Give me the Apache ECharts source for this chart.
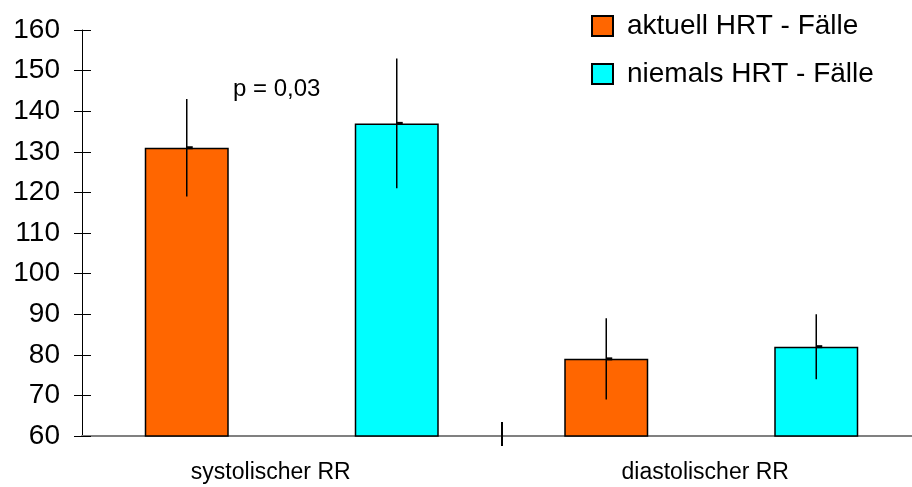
<!DOCTYPE html>
<html>
<head>
<meta charset="utf-8">
<script src="https://cdn.jsdelivr.net/npm/echarts@6/dist/echarts.min.js"></script>
<style>html,body{margin:0;padding:0;background:#fff}#c{width:912px;height:487px}</style>
</head>
<body>
<div id="c"></div>
<script>
var categories = ['systolischer RR', 'diastolischer RR'];
var seriesNames = ['aktuell HRT - Fälle', 'niemals HRT - Fälle'];
var aktuellMean = [131, 79];
var aktuellLow = [119, 69];
var aktuellHigh = [143, 89];
var niemalsMean = [137, 82];
var niemalsLow = [121, 74];
var niemalsHigh = [153, 90];
var yTicks = [60, 70, 80, 90, 100, 110, 120, 130, 140, 150, 160];
var annotation = 'p = 0,03';

var FONT = "'Liberation Sans', Arial, sans-serif";
var BAR_W = 84;
var OFFSET = 105;

function errData(mean, low, high) {
  return categories.map(function (c, i) { return [i, low[i], high[i], mean[i]]; });
}
function errRender(off) {
  return function (params, api) {
    var i = api.value(0);
    var lo = api.coord([i, api.value(1)]);
    var hi = api.coord([i, api.value(2)]);
    var mid = api.coord([i, api.value(3)]);
    var x = lo[0] + off;
    return {
      type: 'group',
      children: [
        { type: 'line', shape: { x1: x, y1: lo[1], x2: x, y2: hi[1] }, style: { stroke: '#000', lineWidth: 1.5 } },
        { type: 'rect', shape: { x: x, y: mid[1] - 1.5, width: 6, height: 3 }, style: { fill: '#000' } }
      ]
    };
  };
}

var chart = echarts.init(document.getElementById('c'));
chart.setOption({
  animation: false,
  textStyle: { fontFamily: FONT },
  grid: { left: 82, width: 839, top: 30, bottom: 51, containLabel: false, outerBoundsMode: 'none' },
  legend: {
    orient: 'vertical', left: 586, top: 7, itemWidth: 21, itemHeight: 20, itemGap: 20,
    icon: 'rect',
    textStyle: { fontSize: 28, color: '#000', fontFamily: FONT, padding: [0, 0, 0, 9] },
    data: seriesNames
  },
  xAxis: [
    {
      type: 'category', data: categories, boundaryGap: true,
      axisLine: { lineStyle: { color: '#808080', width: 2 } },
      axisTick: { show: false },
      axisLabel: {
        fontSize: 23, color: '#000', margin: 25, fontFamily: FONT,
        formatter: function (v, i) { return i === 0 ? '{a|' + v + '}' : '{b|' + v + '}'; },
        rich: {
          a: { fontSize: 23, fontFamily: FONT, color: '#000', padding: [0, 42, 0, 0] },
          b: { fontSize: 23, fontFamily: FONT, color: '#000', padding: [0, 12, 0, 0] }
        }
      }
    },
    {
      type: 'value', min: 0, max: 2, position: 'bottom',
      axisLine: { show: false }, axisLabel: { show: false }, splitLine: { show: false },
      axisTick: { show: true, customValues: [1], length: 10, lineStyle: { color: '#000', width: 2 } }
    },
    {
      type: 'value', min: 0, max: 2, position: 'bottom',
      axisLine: { show: false }, axisLabel: { show: false }, splitLine: { show: false },
      axisTick: { show: true, inside: true, customValues: [1], length: 14, lineStyle: { color: '#000', width: 2 } }
    }
  ],
  yAxis: [
    {
      type: 'value', min: 60, max: 160, interval: 10,
      axisLine: { show: true, lineStyle: { color: '#000', width: 1 } },
      axisTick: { show: true, length: 8, lineStyle: { color: '#000', width: 1 } },
      axisLabel: { fontSize: 28, color: '#000', margin: 22, fontFamily: FONT,
        customValues: yTicks },
      splitLine: { show: false }
    },
    {
      type: 'value', min: 60, max: 160, interval: 10, position: 'left',
      axisLine: { show: false },
      axisTick: { show: true, inside: true, length: 9, lineStyle: { color: '#000', width: 1 } },
      axisLabel: { show: false },
      splitLine: { show: false }
    }
  ],
  series: [
    {
      name: seriesNames[0], type: 'bar', data: aktuellMean, barWidth: BAR_W, barGap: '150%',
      itemStyle: { color: '#FF6600', borderColor: '#000', borderWidth: 1.5 }
    },
    {
      name: seriesNames[1], type: 'bar', data: niemalsMean, barWidth: BAR_W, barGap: '150%',
      itemStyle: { color: '#00FFFF', borderColor: '#000', borderWidth: 1.5 }
    },
    {
      type: 'custom', renderItem: errRender(-OFFSET), data: errData(aktuellMean, aktuellLow, aktuellHigh),
      encode: { x: 0, y: [1, 2] }, z: 10, silent: true
    },
    {
      type: 'custom', renderItem: errRender(OFFSET), data: errData(niemalsMean, niemalsLow, niemalsHigh),
      encode: { x: 0, y: [1, 2] }, z: 10, silent: true
    }
  ],
  graphic: [
    { type: 'text', left: 233, top: 77, style: { text: annotation, fontSize: 24, fill: '#000', fontFamily: FONT } }
  ]
});
</script>
</body>
</html>
